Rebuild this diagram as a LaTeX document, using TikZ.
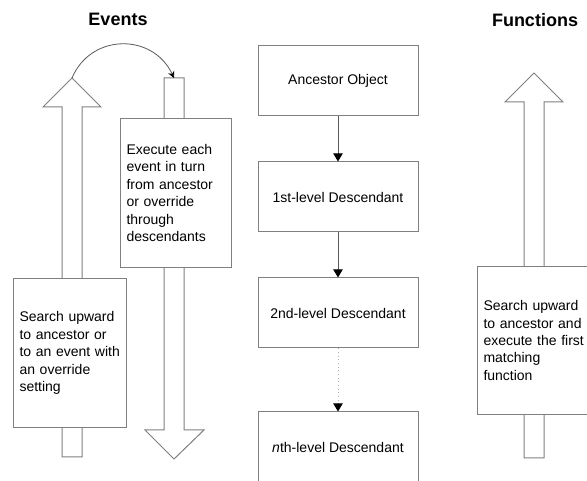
\documentclass[tikz,border=0pt]{standalone}
\usepackage{fontspec}
\setmainfont{Liberation Sans}
\usetikzlibrary{arrows.meta}
\definecolor{edge}{RGB}{128,128,128}
\definecolor{conncol}{RGB}{90,90,90}
\begin{document}
\begin{tikzpicture}[x=0.75pt,y=-0.75pt,
  txt/.style={font=\fontsize{10.5}{13.1}\selectfont},
  title/.style={font=\fontsize{13.5}{16}\selectfont\bfseries},
  hollow/.style={draw=edge, fill=white, line width=0.75pt, line join=miter},
  lvl/.style={draw=edge, fill=white, line width=0.75pt, minimum width=120pt, minimum height=52.5pt, inner sep=0pt, txt},
  note/.style={draw=edge, fill=white, line width=0.75pt, inner xsep=4.5pt, inner ysep=0pt, align=left, anchor=north west, txt},
  conn/.style={draw=conncol, line width=0.75pt, -{Triangle[width=7pt,length=6pt,black]}},
  dconn/.style={draw=edge!60, line width=0.75pt, dotted, -{Triangle[width=7pt,length=6pt,black]}}
]
\useasboundingbox (0,0) rectangle (587,481);
\fill[white] (0,0) rectangle (587,481);
\clip (0,0) rectangle (587,481);

% titles
\node[title] (tEv) at (118,19) {Events};
\node[title] (tFn) at (535,20) {Functions};

% left up arrow
\coordinate (ltip) at (72,78);
\draw[hollow] (62,457) -- (62,107) -- (43,107) -- (ltip) -- (101,107) -- (82,107) -- (82,457) -- cycle;

% middle down arrow
\coordinate (mtop) at (174,78);
\draw[hollow] (164,78) -- (184,78) -- (184,430) -- (204,430) -- (174,459) -- (145,430) -- (164,430) -- cycle;

% curved arrow
\draw[draw=conncol, line width=0.6pt, -{Stealth[width=5pt,length=5pt,black]}] (ltip) .. controls (91,33) and (153,33) .. (mtop);

% event boxes
\node[note, text width=75.75pt, minimum height=111.75pt] (searchE) at (13,278)
  {Search upward\\to ancestor or\\to an event with\\an override\\setting};
\node[note, text width=74.25pt, minimum height=111.75pt] (exec) at (120,118)
  {Execute each\\event in turn\\from ancestor\\or override\\through\\descendants};

% middle column
\node[lvl] (anc) at (338,81) {Ancestor Object};
\node[lvl] (d1) at (338,197) {1st-level Descendant};
\node[lvl] (d2) at (338,313) {2nd-level Descendant};
\node[lvl] (dn) at (338,447) {\textit{n}th-level Descendant};
\draw[conn] (anc) -- (d1);
\draw[conn] (d1) -- (d2);
\draw[dconn] (d2) -- (dn);

% right up arrow
\coordinate (rtip) at (534,73);
\draw[hollow] (524,458) -- (524,102) -- (505,102) -- (rtip) -- (563,102) -- (544,102) -- (544,458) -- cycle;
\node[note, text width=77.25pt, minimum height=111pt] (searchF) at (477,266)
  {Search upward\\to ancestor and\\execute the first\\matching\\function};
\end{tikzpicture}
\end{document}
